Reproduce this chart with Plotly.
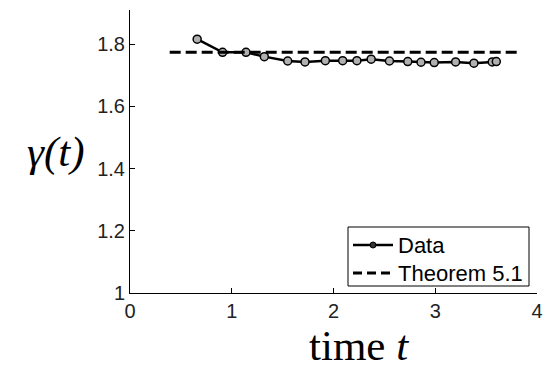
import plotly.graph_objects as go

t_data = [0.66, 0.91, 1.14, 1.32, 1.55, 1.72, 1.92, 2.09, 2.23, 2.37, 2.55, 2.73, 2.86, 2.99, 3.20, 3.38, 3.56, 3.60]
gamma_data = [1.816, 1.774, 1.774, 1.760, 1.746, 1.743, 1.747, 1.747, 1.747, 1.752, 1.746, 1.744, 1.742, 1.741, 1.743, 1.739, 1.743, 1.744]
t_theorem = [0.39, 3.82]
gamma_theorem = [1.774, 1.774]

x_ticks = [0, 1, 2, 3, 4]
y_ticks = [1.0, 1.2, 1.4, 1.6, 1.8]
y_tick_labels = ["1", "1.2", "1.4", "1.6", "1.8"]
legend_labels = ["Data", "Theorem 5.1"]

W, H = 552, 368
ML, MR, MT, MB = 130, 15, 10, 75
PW, PH = W - ML - MR, H - MT - MB


def px(xpix):
    return (xpix - ML) / PW


def py(ypix):
    return (H - MB - ypix) / PH


fig = go.Figure()
fig.add_trace(go.Scatter(
    x=t_data, y=gamma_data, mode="lines+markers", name=legend_labels[0],
    line=dict(color="black", width=2.5),
    marker=dict(symbol="circle", size=8, color="#b0b0b0",
                line=dict(color="black", width=1.5)),
    showlegend=False,
))
fig.add_trace(go.Scatter(
    x=t_theorem, y=gamma_theorem, mode="lines", name=legend_labels[1],
    line=dict(color="black", width=3, dash="11px,5px"),
    showlegend=False,
))

axis_font = dict(family="Liberation Sans, Arial, sans-serif", size=20, color="#222222")
leg_font = dict(family="Liberation Sans, Arial, sans-serif", size=22, color="black")
title_font = dict(family="Liberation Serif, Times New Roman, serif", size=43, color="black")

shapes = [
    # legend box
    dict(type="rect", xref="paper", yref="paper", x0=px(348), x1=px(529), y0=py(286), y1=py(227),
         line=dict(color="black", width=1), fillcolor="white", layer="above"),
    # legend sample: data
    dict(type="line", xref="paper", yref="paper", x0=px(353), x1=px(393), y0=py(245), y1=py(245),
         line=dict(color="black", width=2.5), layer="above"),
    dict(type="circle", xref="paper", yref="paper", x0=px(370), x1=px(376), y0=py(248), y1=py(242),
         line=dict(color="black", width=1), fillcolor="#333333", layer="above"),
    # legend sample: theorem
    dict(type="line", xref="paper", yref="paper", x0=px(353), x1=px(393), y0=py(273), y1=py(273),
         line=dict(color="black", width=3, dash="9px,5px"), layer="above"),
]

annotations = [
    dict(text=legend_labels[0], xref="paper", yref="paper", x=px(396), y=py(245),
         xanchor="left", yanchor="middle", showarrow=False, font=leg_font),
    dict(text=legend_labels[1], xref="paper", yref="paper", x=px(396), y=py(273),
         xanchor="left", yanchor="middle", showarrow=False, font=leg_font),
    dict(text="time <i>t</i>", xref="paper", yref="paper", x=px(359), y=py(345),
         xanchor="center", yanchor="middle", showarrow=False, font=title_font),
    dict(text="<i>γ(t)</i>", xref="paper", yref="paper", x=px(56), y=py(152),
         xanchor="center", yanchor="middle", showarrow=False, font=title_font),
]

fig.update_layout(
    width=W, height=H,
    margin=dict(l=ML, r=MR, t=MT, b=MB),
    paper_bgcolor="white", plot_bgcolor="white",
    showlegend=False,
    xaxis=dict(
        range=[0, 4], tickvals=x_ticks, ticktext=[str(v) for v in x_ticks],
        showgrid=False, zeroline=False, showline=True, linecolor="black", linewidth=1,
        ticks="inside", ticklen=5, tickcolor="black", tickfont=axis_font,
    ),
    yaxis=dict(
        range=[1.0, 1.91], tickvals=y_ticks, ticktext=y_tick_labels,
        showgrid=False, zeroline=False, showline=True, linecolor="black", linewidth=1,
        ticks="inside", ticklen=5, tickcolor="black", tickfont=axis_font,
    ),
    shapes=shapes,
    annotations=annotations,
)

fig.write_html("out.html")
